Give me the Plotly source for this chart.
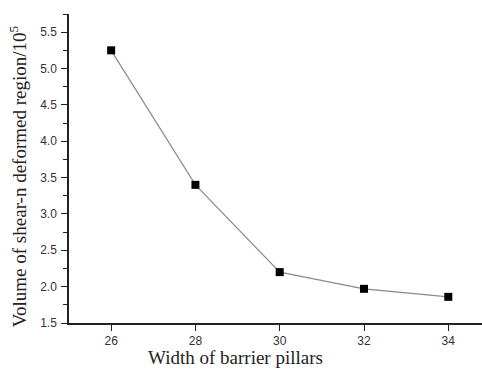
import plotly.graph_objects as go

widths = [26, 28, 30, 32, 34]
volumes = [5.25, 3.40, 2.20, 1.97, 1.86]
x_title = "Width of barrier pillars"
y_title = "Volume of shear-n deformed region/10<sup>5</sup>"

fig = go.Figure()
fig.add_trace(go.Scatter(
    x=widths, y=volumes, mode="lines+markers",
    line=dict(color="#8a8a8a", width=1.2),
    marker=dict(symbol="square", size=8, color="black"),
    showlegend=False,
))

title_font = dict(family="Liberation Serif, Times New Roman", size=19, color="#222")
fig.update_layout(
    width=482, height=374,
    margin=dict(l=69, r=0, t=14, b=51),
    plot_bgcolor="white", paper_bgcolor="white",
    font=dict(family="Liberation Sans, Arial", size=12, color="#333333"),
    annotations=[
        dict(text=x_title, xref="paper", yref="paper", x=0.402, y=-0.113,
             showarrow=False, font=title_font, xanchor="center", yanchor="middle"),
        dict(text=y_title, xref="paper", yref="paper", x=-0.1235, y=0.475,
             showarrow=False, font=title_font, textangle=-90,
             xanchor="center", yanchor="middle"),
    ],
)
fig.update_xaxes(
    range=[25, 34.8], tickvals=widths, ticks="outside", ticklen=6, tickwidth=1.3,
    tickcolor="#222", showline=True, linecolor="#222", linewidth=1.5,
    showgrid=False, zeroline=False,
)
fig.update_yaxes(
    range=[1.5, 5.75], tickvals=[1.5, 2.0, 2.5, 3.0, 3.5, 4.0, 4.5, 5.0, 5.5],
    ticktext=["1.5", "2.0", "2.5", "3.0", "3.5", "4.0", "4.5", "5.0", "5.5"],
    ticks="outside", ticklen=6, tickwidth=1.3, tickcolor="#222",
    ticklabelstandoff=2,
    minor=dict(dtick=0.25, tick0=1.5, ticks="outside", ticklen=4, tickcolor="#222", tickwidth=1),
    showline=True, linecolor="#222", linewidth=1.5,
    showgrid=False, zeroline=False,
)

fig.write_html("out.html")
